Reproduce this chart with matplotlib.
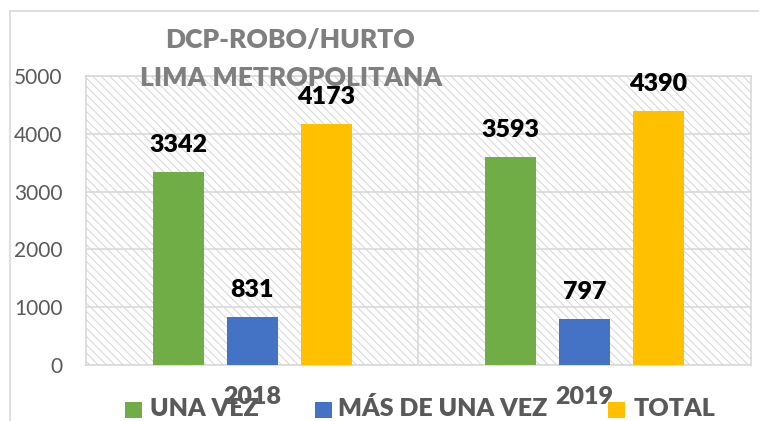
import matplotlib
matplotlib.use("Agg")
import matplotlib.pyplot as plt
import numpy as np
from matplotlib.patches import Rectangle
from matplotlib.lines import Line2D

categories = ["2018", "2019"]
series_names = ["UNA VEZ", "MÁS DE UNA VEZ", "TOTAL"]
una_vez = [3342, 3593]
mas_de_una_vez = [831, 797]
total = [4173, 4390]
yticks = [0, 1000, 2000, 3000, 4000, 5000]
title_lines = ["DCP-ROBO/HURTO", "LIMA METROPOLITANA"]

colors = ["#70AD47", "#4472C4", "#FFC000"]
FONT = ["Lato", "DejaVu Sans"]
plt.rcParams["font.family"] = FONT
plt.rcParams["hatch.linewidth"] = 0.7
plt.rcParams["hatch.color"] = "#cfcfcf"
WT = "heavy"

W, H = 759, 421
fig = plt.figure(figsize=(W / 100, H / 100), dpi=100)
# plot area in pixels: left 86, right 751, top 76, bottom 365
ax = fig.add_axes([86 / W, 1 - 365 / H, (751 - 86) / W, (365 - 76) / H])

x = np.arange(len(categories))
step = 0.222
bw = 0.153
series = [una_vez, mas_de_una_vez, total]

# hatched background
ax.add_patch(Rectangle((0, 0), 1, 1, transform=ax.transAxes, facecolor="white",
                       edgecolor="#d4d4d4", hatch="\\\\\\\\", linewidth=0, zorder=0))

for i, (vals, c) in enumerate(zip(series, colors)):
    pos = x + (i - 1) * step
    bars = ax.bar(pos, vals, width=bw, color=c, zorder=3)
    for b, v in zip(bars, vals):
        ax.text(b.get_x() + b.get_width() / 2, v + 346, str(v), ha="center", va="baseline",
                fontsize=18, fontweight=WT, color="black", zorder=4)

ax.set_xlim(-0.5, 1.5)
ax.set_ylim(0, 5000)
ax.set_yticks(yticks)
ax.set_yticklabels([str(t) for t in yticks], fontsize=15, color="#595959")
ax.tick_params(axis="y", length=0, pad=17)
ax.set_xticks([])
for yt in yticks:
    ax.axhline(yt, color="#d9d9d9", lw=1.2, zorder=1)
ax.axvline(0.5, color="#d9d9d9", lw=1.2, zorder=1)
for s in ax.spines.values():
    s.set_color("#d9d9d9")
    s.set_linewidth(1.2)

# category labels (overlapping the legend, as in the reference)
for xi, cat in zip(x, categories):
    ax.text(xi, -0.11, cat, transform=ax.get_xaxis_transform(), ha="center", va="center",
            fontsize=18, fontweight=WT, color="#595959", zorder=6)

# title
fig.text(290 / W, 1 - 40 / H, title_lines[0], ha="center", va="center", fontsize=19,
         fontweight=WT, color="#7f7f7f")
fig.text(291 / W, 1 - 78 / H, title_lines[1], ha="center", va="center", fontsize=19,
         fontweight=WT, color="#7f7f7f")

# outer chart frame
fig.add_artist(Line2D([10 / W, 10 / W], [0, 1 - 11 / H], transform=fig.transFigure,
                      color="#d9d9d9", lw=1.2))
fig.add_artist(Line2D([10 / W, 1], [1 - 11 / H, 1 - 11 / H], transform=fig.transFigure,
                      color="#d9d9d9", lw=1.2))

# legend (manual placement, in pixels)
leg_sq_x = [125, 315, 608]
leg_tx_x = [150, 338, 634]
for sx, tx, c, name in zip(leg_sq_x, leg_tx_x, colors, series_names):
    fig.add_artist(Rectangle((sx / W, 1 - 418 / H), 17 / W, 16 / H, transform=fig.transFigure,
                             facecolor=c, edgecolor="none", zorder=5))
    fig.text(tx / W, 1 - 409 / H, name, ha="left", va="center", fontsize=18,
             fontweight=WT, color="#595959", zorder=5)

fig.savefig("out.png", dpi=100)
